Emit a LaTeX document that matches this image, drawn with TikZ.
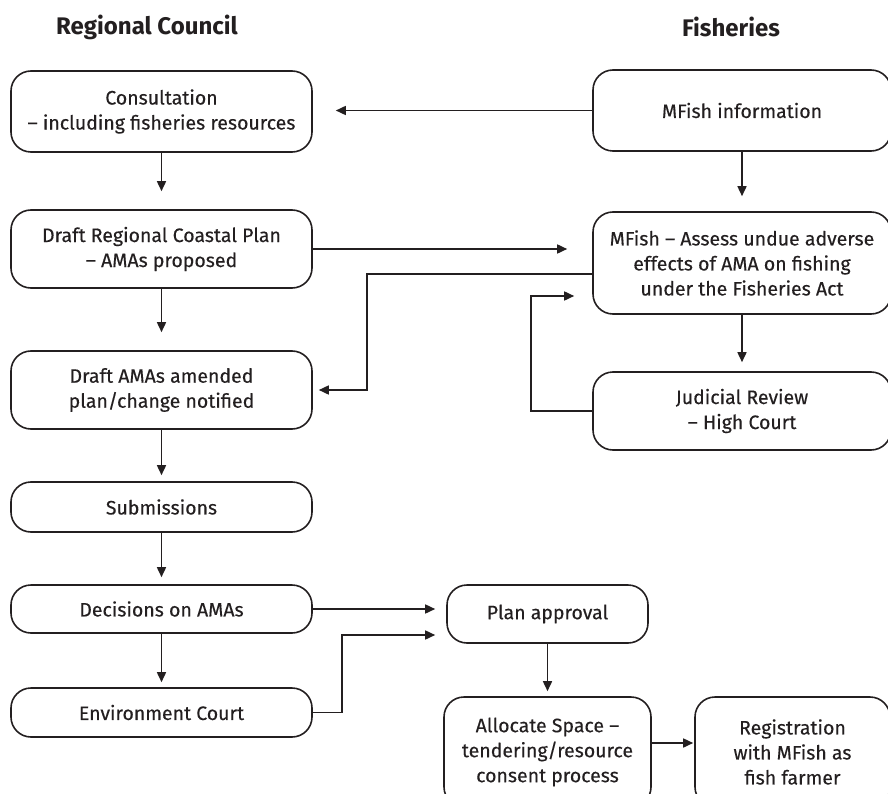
\documentclass[tikz,border=0pt]{standalone}
\usepackage{fontspec}
\setmainfont{Fira Sans}[UprightFeatures={FakeBold=0.3}]
\usetikzlibrary{arrows.meta}
\definecolor{ink}{HTML}{231F20}
\tikzset{
  box/.style={draw=ink, line width=1.6pt, rounded corners=20pt, align=center,
    text=ink, font=\fontsize{19.5}{25}\selectfont, inner sep=0pt},
  arr/.style={draw=ink, line width=1.6pt, -{Triangle[length=10pt,width=9pt]}},
  ttl/.style={text=ink, font=\fontsize{24}{28}\selectfont\bfseries}
}
\begin{document}
\begin{tikzpicture}[x=1pt,y=-1pt]
\useasboundingbox (0,0) rectangle (888,794);
\clip (0,0) rectangle (888,794);
\node[ttl] (t1) at (147,27) {Regional Council};
\node[ttl] (t2) at (731,27) {Fisheries};
\node[box, minimum width=301pt, minimum height=81pt] (cons) at (161.5,111.5) {Consultation\\– including fisheries resources};
\node[box, minimum width=301pt, minimum height=78pt] (rcp) at (161.5,249) {Draft Regional Coastal Plan\\– AMAs proposed};
\node[box, minimum width=301pt, minimum height=78pt] (amas) at (161.5,390) {Draft AMAs amended\\plan/change notified};
\node[box, minimum width=301pt, minimum height=50pt] (subm) at (161.5,507) {Submissions};
\node[box, minimum width=301pt, minimum height=48pt] (dec) at (161.5,609) {Decisions on AMAs};
\node[box, minimum width=301pt, minimum height=49pt] (env) at (161.5,712.5) {Environment Court};
\node[box, minimum width=298pt, minimum height=81pt] (info) at (742,110.5) {MFish information};
\node[box, minimum width=298pt, minimum height=102pt] (assess) at (742,263) {MFish – Assess undue adverse\\effects of AMA on fishing\\under the Fisheries Act};
\node[box, minimum width=298pt, minimum height=78pt] (jud) at (742,411) {Judicial Review\\– High Court};
\node[box, minimum width=201pt, minimum height=58pt] (plan) at (547.5,614) {Plan approval};
\node[box, minimum width=207pt, minimum height=110pt] (alloc) at (547.5,752) {Allocate Space –\\tendering/resource\\consent process};
\node[box, minimum width=195pt, minimum height=110pt] (reg) at (792.5,752) {Registration\\with MFish as\\fish farmer};
% connectors
\draw[arr, shorten >=23pt] (info.west) -- (info.west -| cons.east);
\draw[arr, shorten >=18pt] (cons.south) -- (rcp.north);
\draw[arr, shorten >=18pt] (rcp.south) -- (amas.north);
\draw[arr, shorten >=15pt] (info.south) -- (assess.north);
\draw[arr, shorten >=25pt] (rcp.east) -- (rcp.east -| assess.west);
\draw[arr, shorten >=6pt] ([yshift=-11pt]assess.west) -- ++(-225,0) |- (amas.east);
\draw[arr, shorten >=18pt] (jud.west) -- ++(-61,0) |- ([yshift=-33pt]assess.west);
\draw[arr, shorten >=9pt] (assess.south) -- (jud.north);
\draw[arr, shorten >=6pt] (amas.south) -- (subm.north);
\draw[arr, shorten >=7pt] (subm.south) -- (dec.north);
\draw[arr, shorten >=5pt] (dec.south) -- (env.north);
\draw[arr, shorten >=11pt] (dec.east) -- (dec.east -| plan.west);
\draw[arr, shorten >=11pt] (env.east) -- ++(29,0) |- ([yshift=-21pt]plan.west);
\draw[arr, shorten >=5pt] (plan.south) -- (alloc.north);
\draw[arr, shorten >=1pt] ([yshift=9pt]alloc.east) -- ([yshift=9pt]alloc.east -| reg.west);
\end{tikzpicture}
\end{document}
